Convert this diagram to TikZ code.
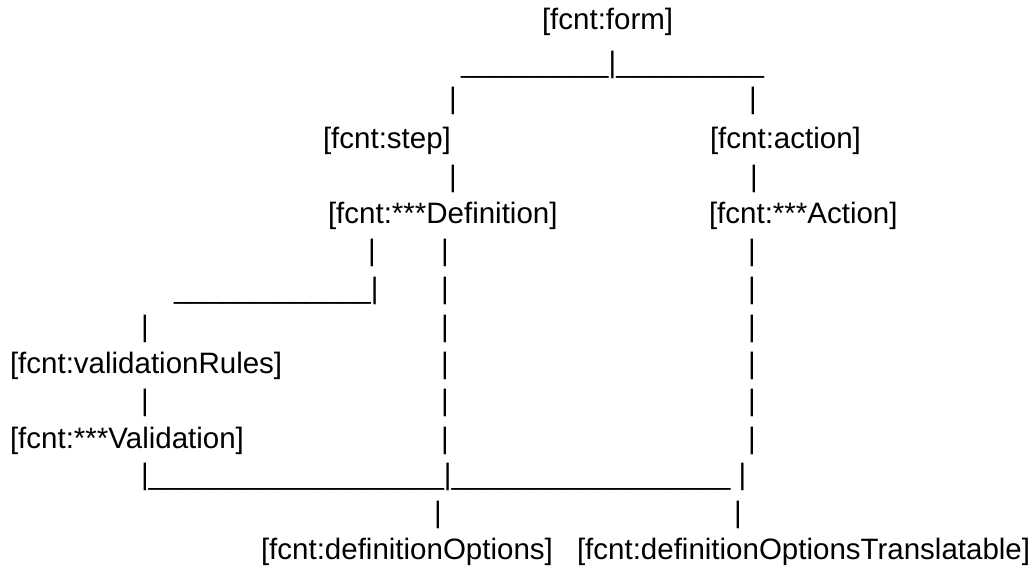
\documentclass[tikz,border=0pt]{standalone}
\usepackage{fontspec}
\newfontfamily\asc{Liberation Sans}
\tikzset{
  txt/.style={anchor=base west, inner sep=0pt, outer sep=0pt,
              font=\asc\fontsize{29.5}{38}\selectfont, text=black},
}
\begin{document}
\begin{tikzpicture}[x=1pt,y=-1pt]
\useasboundingbox (0,0) rectangle (1031,584);

% row 0
\node[txt] (form) at (542,29) {[fcnt:form]};
% row 1
\node[txt] (r1) at (461,72) {\_\_\_\_\_\_\_\_\_|\_\_\_\_\_\_\_\_\_};
% row 2
\node[txt] (r2a) at (449,108) {|};
\node[txt] (r2b) at (749,108) {|};
% row 3
\node[txt] (step) at (323,148) {[fcnt:step]};
\node[txt] (action) at (710,148) {[fcnt:action]};
% row 4
\node[txt] (r4a) at (449,186) {|};
\node[txt] (r4b) at (750,186) {|};
% row 5
\node[txt] (def) at (328,223) {[fcnt:***Definition]};
\node[txt] (act) at (709,223) {[fcnt:***Action]};
% row 6
\node[txt] (r6a) at (368,260) {|};
\node[txt] (r6b) at (441,260) {|};
\node[txt] (r6c) at (748,260) {|};
% row 7
\node[txt] (r7a) at (174,298) {\_\_\_\_\_\_\_\_\_\_\_\_|};
\node[txt] (r7b) at (441,298) {|};
\node[txt] (r7c) at (748,298) {|};
% row 8
\node[txt] (r8a) at (141,336) {|};
\node[txt] (r8b) at (441,336) {|};
\node[txt] (r8c) at (748,336) {|};
% row 9
\node[txt] (rules) at (10,373) {[fcnt:validationRules]};
\node[txt] (r9b) at (441,373) {|};
\node[txt] (r9c) at (748,373) {|};
% row 10
\node[txt] (r10a) at (141,410) {|};
\node[txt] (r10b) at (441,410) {|};
\node[txt] (r10c) at (748,410) {|};
% row 11
\node[txt] (valid) at (10,448) {[fcnt:***Validation]};
\node[txt] (r11b) at (441,448) {|};
\node[txt] (r11c) at (748,448) {|};
% row 12
\node[txt] (r12) at (141,484) {|\_\_\_\_\_\_\_\_\_\_\_\_\_\_\_\_\_\_|\_\_\_\_\_\_\_\_\_\_\_\_\_\_\_\_\_ |};
% row 13
\node[txt] (r13a) at (434,522) {|};
\node[txt] (r13b) at (734,522) {|};
% row 14
\node[txt] (opts) at (261,559) {[fcnt:definitionOptions]};
\node[txt] (optst) at (577,559) {[fcnt:definitionOptionsTranslatable]};
\end{tikzpicture}
\end{document}
